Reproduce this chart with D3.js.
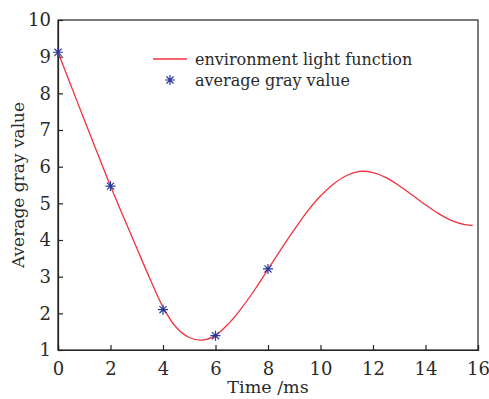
<!DOCTYPE html>
<html>
<head>
<meta charset="utf-8">
<script src="https://cdn.jsdelivr.net/npm/d3@7"></script>
<style>
  body { margin: 0; background: #fff; }
  svg text { font-family: "DejaVu Serif", serif; fill: #2a2a2a; }
</style>
</head>
<body>
<svg id="chart" width="489" height="399"></svg>
<script>
// fitted curve (environment light function)
const curveT = [0, 0.5, 1, 1.5, 2, 2.5, 3, 3.5, 4, 4.5, 5, 5.5, 6, 6.5, 7, 7.5, 8,
  8.5, 9, 9.5, 10, 10.5, 11, 11.5, 12, 12.5, 13, 13.5, 14, 14.5, 15, 15.5, 15.8];
const curveV = [9.12, 8.2, 7.28, 6.37, 5.47, 4.62, 3.78, 2.95, 2.17, 1.62, 1.34, 1.27, 1.4,
  1.72, 2.15, 2.65, 3.2, 3.75, 4.28, 4.78, 5.2, 5.53, 5.76, 5.87, 5.84, 5.7, 5.48, 5.22,
  4.96, 4.72, 4.53, 4.42, 4.4];

// measured points (average gray value)
const sampleT = [0, 2, 4, 6, 8];
const sampleV = [9.12, 5.47, 2.1, 1.39, 3.21];

const xTicks = [0, 2, 4, 6, 8, 10, 12, 14, 16];
const yTicks = [1, 2, 3, 4, 5, 6, 7, 8, 9, 10];

const margin = {top: 20, right: 11, bottom: 49, left: 58};
const width = 489 - margin.left - margin.right;
const height = 399 - margin.top - margin.bottom;

const svg = d3.select('#chart');
const g = svg.append('g')
  .attr('transform', `translate(${margin.left},${margin.top})`);

const x = d3.scaleLinear().domain([0, 16]).range([0, width]);
const y = d3.scaleLinear().domain([1, 10]).range([height, 0]);

// frame
g.append('rect')
  .attr('width', width)
  .attr('height', height)
  .attr('fill', 'none')
  .attr('stroke', '#222')
  .attr('stroke-width', 1.2);

const axisX = d3.axisBottom(x).tickValues(xTicks).tickSize(-5).tickPadding(12);
const axisY = d3.axisLeft(y).tickValues(yTicks).tickSize(-5).tickPadding(7);

const gx = g.append('g')
  .attr('transform', `translate(0,${height})`)
  .call(axisX);
const gy = g.append('g').call(axisY);

[gx, gy].forEach(a => {
  a.select('.domain').attr('stroke', '#222').attr('stroke-width', 1.2);
  a.selectAll('.tick line').attr('stroke', '#222').attr('stroke-width', 1.2);
  a.selectAll('.tick text').attr('font-size', 18).attr('fill', '#2a2a2a')
    .style('font-family', '"DejaVu Serif", serif');
});

// curve
const curveData = curveT.map((t, i) => ({t: t, v: curveV[i]}));
const line = d3.line()
  .x(d => x(d.t))
  .y(d => y(d.v))
  .curve(d3.curveCatmullRom);

g.append('path')
  .datum(curveData)
  .attr('fill', 'none')
  .attr('stroke', '#f0323e')
  .attr('stroke-width', 1.3)
  .attr('d', line);

// star markers
function star(sel, size) {
  const r = size / 2;
  const d = r * Math.SQRT1_2;
  sel.append('path')
    .attr('d', `M${-r},0L${r},0M0,${-r}L0,${r}M${-d},${-d}L${d},${d}M${-d},${d}L${d},${-d}`)
    .attr('stroke', '#2a3a9c')
    .attr('stroke-width', 1.2)
    .attr('fill', 'none');
}

const samples = sampleT.map((t, i) => ({t: t, v: sampleV[i]}));
g.selectAll('.pt')
  .data(samples)
  .enter().append('g')
  .attr('class', 'pt')
  .attr('transform', d => `translate(${x(d.t)},${y(d.v)})`)
  .each(function () { star(d3.select(this), 10); });

// legend
const leg = g.append('g').attr('transform', 'translate(95,39)');
leg.append('line')
  .attr('x1', 0).attr('x2', 34)
  .attr('y1', 0).attr('y2', 0)
  .attr('stroke', '#f0323e')
  .attr('stroke-width', 1.3);
leg.append('text')
  .attr('x', 42).attr('y', 5.5)
  .attr('font-size', 16)
  .text('environment light function');
const legStar = leg.append('g').attr('transform', 'translate(17,21)');
star(legStar, 10);
leg.append('text')
  .attr('x', 42).attr('y', 26.5)
  .attr('font-size', 16)
  .text('average gray value');

// axis titles
svg.append('text')
  .attr('x', margin.left + width / 2)
  .attr('y', 393)
  .attr('text-anchor', 'middle')
  .attr('font-size', 17.5)
  .text('Time /ms');

svg.append('text')
  .attr('transform', `translate(24,${margin.top + height / 2}) rotate(-90)`)
  .attr('text-anchor', 'middle')
  .attr('font-size', 17)
  .text('Average gray value');
</script>
</body>
</html>
